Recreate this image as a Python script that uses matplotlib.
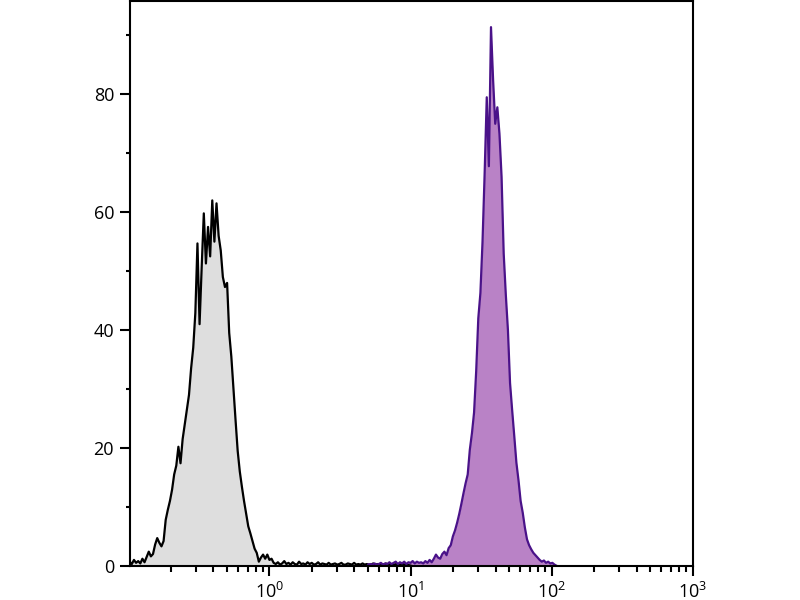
import numpy as np
import matplotlib
matplotlib.use("Agg")
import matplotlib.pyplot as plt
from matplotlib.ticker import LogLocator, LogFormatterSciNotation, MultipleLocator, NullFormatter

plt.rcParams['font.family'] = ['Open Sans', 'DejaVu Sans']
plt.rcParams['mathtext.default'] = 'regular'

# histogram channels: log10 start, step per channel
gray_start, purple_start, step = -0.99, 0.70, 0.015

# unstained control (gray)
gray_counts = [
    0.7, 0.3, 1.0, 0.5, 0.8, 0.4, 1.2, 0.6, 1.5, 2.4,
    1.6, 2.0, 3.6, 4.7, 3.9, 3.3, 4.2, 7.8, 9.5, 11.0,
    12.9, 15.5, 17.0, 20.2, 17.4, 21.5, 24.0, 26.5, 29.0, 33.5,
    37.0, 42.9, 54.7, 41.0, 50.7, 59.8, 51.3, 57.5, 52.5, 62.0,
    55.0, 61.5, 56.0, 53.5, 49.0, 47.3, 48.0, 39.5, 35.5, 30.0,
    24.7, 19.5, 16.0, 13.4, 11.0, 8.8, 6.7, 5.5, 4.2, 2.9,
    2.2, 0.7, 1.4, 1.9, 1.2, 1.9, 1.0, 1.2, 0.5, 0.3,
    0.6, 0.2, 0.4, 0.8, 0.3, 0.5, 0.2, 0.6, 0.3, 0.2,
    0.7, 0.3, 0.4, 0.2, 0.6, 0.3, 0.5, 0.2, 0.3, 0.6,
    0.2, 0.4, 0.3, 0.2, 0.5, 0.2, 0.3, 0.4, 0.2, 0.3,
    0.5, 0.2, 0.2, 0.4, 0.3, 0.2, 0.5, 0.2, 0.3, 0.2,
    0.4, 0.2, 0.3, 0.2, 0.2, 0.4, 0.2, 0.3, 0.2, 0.3,
    0.2, 0.4, 0.2, 0.3, 0.2, 0.2, 0.3, 0.2, 0.2, 0.3,
    0.2, 0.2, 0.1, 0.0,
]

# stained sample (purple)
purple_counts = [
    0.2, 0.3, 0.2, 0.4, 0.2, 0.3, 0.5, 0.2, 0.4, 0.3,
    0.6, 0.3, 0.5, 0.7, 0.3, 0.6, 0.4, 0.7, 0.3, 0.6,
    0.5, 0.8, 0.4, 0.7, 0.5, 0.6, 0.4, 0.8, 0.5, 1.0,
    0.6, 1.2, 1.9, 1.4, 1.2, 2.0, 2.4, 1.8, 3.0, 3.5,
    5.0, 6.0, 7.3, 8.8, 10.5, 12.3, 14.0, 15.5, 19.7, 22.5,
    26.0, 33.0, 42.0, 46.3, 55.0, 66.6, 79.5, 67.8, 91.4, 82.4,
    75.0, 77.8, 73.3, 66.0, 53.0, 46.0, 40.0, 31.0, 26.4, 22.0,
    17.5, 14.5, 11.0, 9.0, 6.5, 4.5, 3.5, 2.8, 2.2, 1.8,
    1.4, 1.0, 0.7, 0.9, 0.5, 0.7, 0.4, 0.5, 0.2, 0.0,
]

gray_x = 10 ** (gray_start + step * np.arange(len(gray_counts)))
purple_x = 10 ** (purple_start + step * np.arange(len(purple_counts)))

fig = plt.figure(figsize=(8, 6), dpi=100)
ax = fig.add_axes([0.1625, 0.057, 0.7035, 0.941])

ax.fill_between(gray_x, gray_counts, color='#dedede', lw=0)
ax.plot(gray_x, gray_counts, color='black', lw=1.6)
ax.fill_between(purple_x, purple_counts, color='#b982c6', lw=0)
ax.plot(purple_x, purple_counts, color='#4a1289', lw=1.6)

ax.set_xscale('log')
ax.set_xlim(10 ** -0.988, 1000)
ax.set_ylim(0, 95.8)

ax.xaxis.set_major_locator(LogLocator(base=10, numticks=10))
ax.xaxis.set_major_formatter(LogFormatterSciNotation())
ax.xaxis.set_minor_locator(LogLocator(base=10, subs=np.arange(2, 10), numticks=20))
ax.xaxis.set_minor_formatter(NullFormatter())
ax.yaxis.set_major_locator(MultipleLocator(20))
ax.yaxis.set_minor_locator(MultipleLocator(10))

for s in ax.spines.values():
    s.set_linewidth(1.5)

ax.tick_params(axis='both', which='major', direction='out', length=7.5, width=1.5,
               labelsize=13, pad=4)
ax.tick_params(axis='x', which='minor', direction='out', length=4, width=1.5)
ax.tick_params(axis='y', which='minor', direction='out', length=3, width=1.5)

fig.savefig('out.png', dpi=100)
